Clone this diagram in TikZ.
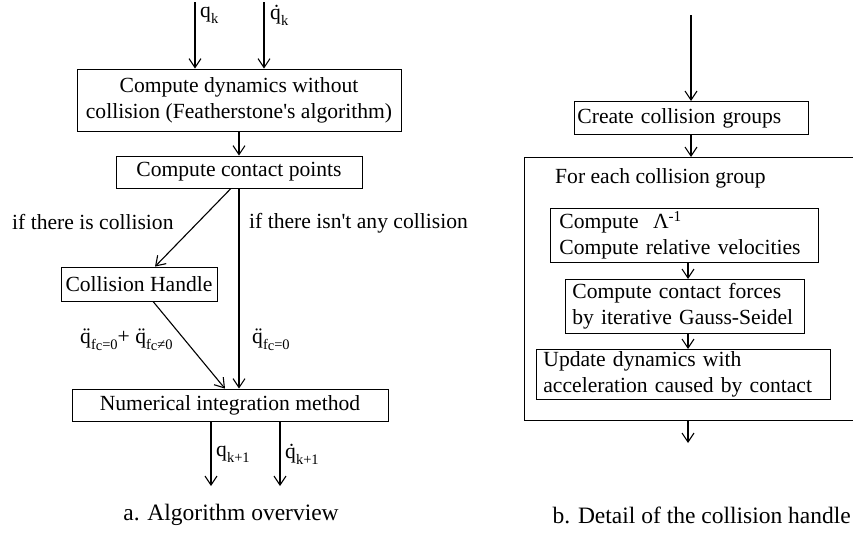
\documentclass[tikz,border=0pt]{standalone}
\usepackage{fontspec}
\setmainfont{Liberation Serif}
\usetikzlibrary{arrows.meta,positioning}
\newcommand{\qsub}[2]{#1\raisebox{-0.28em}{\fontsize{14.5}{15}\selectfont #2}}% symbol, index
\newcommand{\fc}{f\raisebox{-0.12em}{c}}

\begin{document}
\begin{tikzpicture}[x=1pt,y=-1pt,
  font=\fontsize{21.6}{26}\selectfont,
  box/.style={draw,line width=0.8pt,inner sep=0pt,align=center},
  lbox/.style={draw,line width=0.8pt,inner ysep=0pt,align=left,anchor=north west},
  flow/.style={-{Straight Barb[length=9pt,width=12pt]},line width=1.1pt},
  lbl/.style={inner sep=0pt,anchor=west},
  caption/.style={inner sep=0pt,font=\fontsize{23.5}{28}\selectfont}]
  \useasboundingbox (0,0) rectangle (853,533);
  % a. overview
  \node[box,minimum width=324,minimum height=62] (dyn) at (239,100)
    {Compute dynamics without\\collision (Featherstone\textquotesingle s algorithm)};
  \node[box,minimum width=246,minimum height=32] (contact) at (239,172) {Compute contact points};
  \node[box,minimum width=156,minimum height=34] (coll) at (139,284) {Collision Handle};
  \node[box,minimum width=316,minimum height=32] (numint) at (230,405) {Numerical integration method};
  \coordinate (qin) at (195,2);
  \coordinate (qdin) at (264,2);
  \coordinate (qout) at (211,486);
  \coordinate (qdout) at (280,486);
  \draw[flow] (qin) -- (qin |- dyn.north);
  \draw[flow] (qdin) -- (qdin |- dyn.north);
  \draw[flow] (dyn) -- (contact);
  \draw[flow] ([xshift=-8pt]contact.south) -- ([xshift=16pt]coll.north);
  \draw[flow] (contact.south) -- (contact.south |- numint.north);
  \draw[flow] ([xshift=14pt]coll.south) -- ([xshift=-5pt]numint.north);
  \draw[flow] (qout |- numint.south) -- (qout);
  \draw[flow] (qdout |- numint.south) -- (qdout);
  \node[lbl] (qk) at (200,15) {\qsub{q}{k}};
  \node[lbl] (qdk) at (270,15) {\qsub{\.{q}}{k}};
  \node[lbl] (yes) at (12,222) {if there is collision};
  \node[lbl] (no) at (249,223) {if there isn\textquotesingle t any collision};
  \node[lbl] (accboth) at (80,340) {\qsub{\"{q}}{\fc=0}+ \qsub{\"{q}}{\fc≠0}};
  \node[lbl] (accfree) at (252,340) {\qsub{\"{q}}{\fc=0}};
  \node[lbl] (qk1) at (216,454) {\qsub{q}{k+1}};
  \node[lbl] (qdk1) at (285,454) {\qsub{\.{q}}{k+1}};
  \node[caption] (capa) at (231,515) {a. Algorithm overview};
  % b. collision handle
  \node[lbox,inner xsep=3pt,text width=228,minimum height=33] (create) at (574,101) {Create collision groups};
  \node[draw,line width=0.8pt,anchor=north west,minimum width=336,minimum height=263] (group) at (524,157) {};
  \node[lbl] (each) at (555,178) {For each collision group};
  \node[lbox,inner xsep=9pt,text width=250,minimum height=54] (lam) at (550,208)
    {Compute\ \ Λ\textsuperscript{-1}\\Compute relative velocities};
  \node[lbox,inner xsep=7pt,text width=225,minimum height=54] (force) at (565,279)
    {Compute contact forces\\by iterative Gauss-Seidel};
  \node[lbox,inner xsep=7pt,text width=280,minimum height=50] (upd) at (536,349)
    {Update dynamics with\\acceleration caused by contact};
  \coordinate (cin) at (691,15);
  \coordinate (gx) at (688,0);
  \coordinate (cout) at (688,443);
  \draw[flow] (cin) -- (cin |- create.north);
  \draw[flow] (cin |- create.south) -- (cin |- group.north);
  \draw[flow] (gx |- lam.south) -- (gx |- force.north);
  \draw[flow] (gx |- force.south) -- (gx |- upd.north);
  \draw[flow] (cout |- group.south) -- (cout);
  \node[caption,anchor=east] (capb) at (851,515) {b. Detail of the collision handle};
\end{tikzpicture}
\end{document}
